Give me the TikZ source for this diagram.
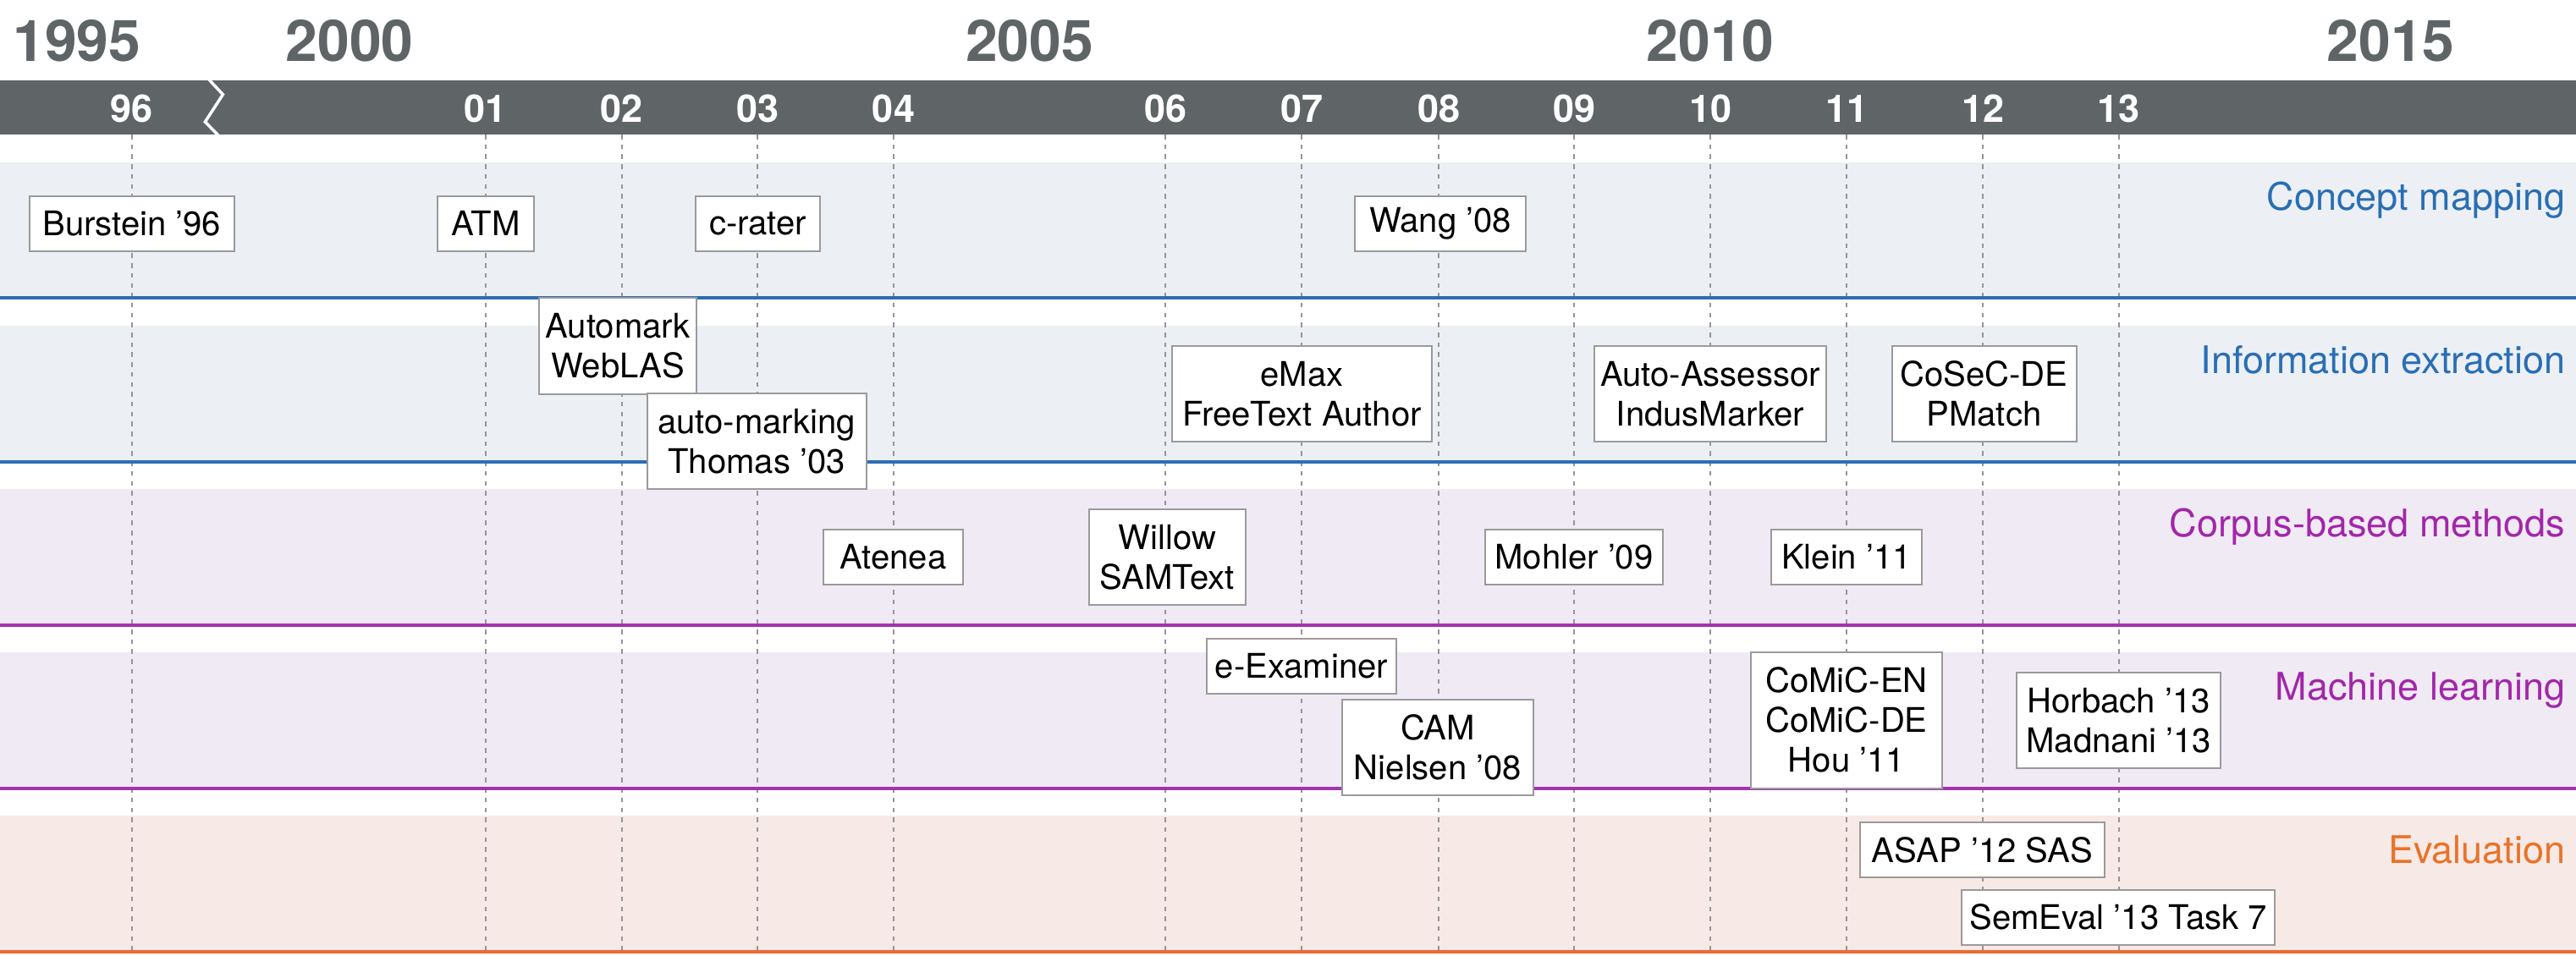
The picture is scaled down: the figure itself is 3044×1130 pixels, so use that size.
\documentclass[tikz,border=0pt]{standalone}
\usepackage{fontspec}
\setmainfont{TeX Gyre Heros}
\definecolor{bargray}{HTML}{5F6467}
\definecolor{boxgray}{HTML}{9A9A9A}
\definecolor{gridgray}{HTML}{959595}
\definecolor{blueline}{HTML}{2E6DB4}
\definecolor{bluefill}{HTML}{ECF0F5}
\definecolor{bluetext}{HTML}{2A6EB4}
\definecolor{purpleline}{HTML}{A233B0}
\definecolor{purplefill}{HTML}{F0EAF5}
\definecolor{purpletext}{HTML}{A226AA}
\definecolor{orangeline}{HTML}{EE6A35}
\definecolor{orangefill}{HTML}{F7E9E5}
\definecolor{orangetext}{HTML}{E8732A}
\begin{document}
\begin{tikzpicture}[x=0.1mm,y=-0.1mm,
  box/.style={draw=boxgray, fill=white, line width=0.2mm, inner sep=0pt, align=center,
    font=\fontsize{11.4}{13.4}\selectfont},
  grid/.style={draw=gridgray, line width=0.2mm, dash pattern=on 0.55mm off 0.62mm},
  bandline/.style={line width=0.35mm},
  bandlabel/.style={anchor=base east, inner sep=0pt, font=\fontsize{12.8}{15}\selectfont},
  yearlabel/.style={anchor=base, inner sep=0pt, text=bargray, font=\fontsize{19.3}{22}\selectfont\bfseries},
  ticklabel/.style={anchor=base, inner sep=0pt, text=white, font=\fontsize{12.8}{15}\selectfont\bfseries}]
\useasboundingbox (0,0) rectangle (3044,1130);
\fill[white] (0,0) rectangle (3044,1130);
% bands
\fill[bluefill] (0,192) rectangle (3044,352);
\fill[bluefill] (0,385) rectangle (3044,546);
\fill[purplefill] (0,578) rectangle (3044,739);
\fill[purplefill] (0,771) rectangle (3044,932);
\fill[orangefill] (0,964) rectangle (3044,1125);
% bar
\fill[bargray] (0,95) rectangle (3044,159);
\draw[white, line width=0.35mm, line join=miter] (246.9,94) -- (263.4,111.7) -- (242.4,144) -- (258,160);
% year labels
\node[yearlabel] (y1995) at (91,72) {1995};
\node[yearlabel] (y2000) at (413,72) {2000};
\node[yearlabel] (y2005) at (1216.5,72) {2005};
\node[yearlabel] (y2010) at (2021,72) {2010};
\node[yearlabel] (y2015) at (2825,72) {2015};
% ticks and grid lines
\foreach \n/\x in {96/155.8, 01/573.7, 02/734.6, 03/895.3, 04/1056, 06/1377.4, 07/1538, 08/1700, 09/1860.4, 10/2021, 11/2182.4, 12/2343, 13/2503.5}{
  \coordinate (t\n) at (\x,159);
  \coordinate (b\n) at (\x,1125);
  \draw[grid] (t\n) -- (b\n);
  \node[ticklabel] (l\n) at (\x,144) {\n};
}
% band lines
\draw[bandline, blueline] (0,352) -- (3044,352);
\draw[bandline, blueline] (0,546) -- (3044,546);
\draw[bandline, purpleline] (0,739) -- (3044,739);
\draw[bandline, purpleline] (0,932) -- (3044,932);
\draw[bandline, orangeline] (0,1125) -- (3044,1125);
% band labels
\node[bandlabel, text=bluetext] (cm) at (3032,248) {Concept mapping};
\node[bandlabel, text=bluetext] (ie) at (3032,441) {Information extraction};
\node[bandlabel, text=purpletext] (cb) at (3032,634) {Corpus-based methods};
\node[bandlabel, text=purpletext] (ml) at (3032,827) {Machine learning};
\node[bandlabel, text=orangetext] (ev) at (3032,1020) {Evaluation};
% boxes
\node[box, minimum width=24.2mm, minimum height=6.5mm] (burstein) at (155.8,264) {Burstein ’96};
\node[box, minimum width=11.4mm, minimum height=6.5mm] (atm) at (574,264) {ATM};
\node[box, minimum width=14.7mm, minimum height=6.5mm] (crater) at (895.5,264) {c-rater};
\node[box, minimum width=20.2mm, minimum height=6.5mm] (wang) at (1702,264) {Wang ’08};
\node[box, minimum width=18.6mm, minimum height=11.4mm] (automark) at (730,409) {Automark\\WebLAS};
\node[box, minimum width=25.9mm, minimum height=11.3mm] (automarking) at (894,521.5) {auto-marking\\Thomas ’03};
\node[box, minimum width=30.7mm, minimum height=11.3mm] (emax) at (1538.5,465.5) {eMax\\FreeText Author};
\node[box, minimum width=27.4mm, minimum height=11.3mm] (autoassessor) at (2021,465.5) {Auto-Assessor\\IndusMarker};
\node[box, minimum width=21.8mm, minimum height=11.3mm] (cosec) at (2344.5,465.5) {CoSeC-DE\\PMatch};
\node[box, minimum width=16.5mm, minimum height=6.5mm] (atenea) at (1055.5,658.5) {Atenea};
\node[box, minimum width=18.5mm, minimum height=11.3mm] (willow) at (1379.3,658.3) {Willow\\SAMText};
\node[box, minimum width=21mm, minimum height=6.5mm] (mohler) at (1860,658.5) {Mohler ’09};
\node[box, minimum width=17.8mm, minimum height=6.5mm] (klein) at (2182,658.5) {Klein ’11};
\node[box, minimum width=22.4mm, minimum height=6.5mm] (eexaminer) at (1538,787.3) {e-Examiner};
\node[box, minimum width=22.6mm, minimum height=11.3mm] (cam) at (1699,883.3) {CAM\\Nielsen ’08};
\node[box, minimum width=22.6mm, minimum height=16.1mm] (comic) at (2182,851) {CoMiC-EN\\CoMiC-DE\\Hou ’11};
\node[box, minimum width=24.1mm, minimum height=11.3mm] (horbach) at (2503.7,851.3) {Horbach ’13\\Madnani ’13};
\node[box, minimum width=28.9mm, minimum height=6.5mm] (asap) at (2342.5,1004.5) {ASAP ’12 SAS};
\node[box, minimum width=37mm, minimum height=6.5mm] (semeval) at (2503,1084) {SemEval ’13 Task 7};
\end{tikzpicture}
\end{document}
